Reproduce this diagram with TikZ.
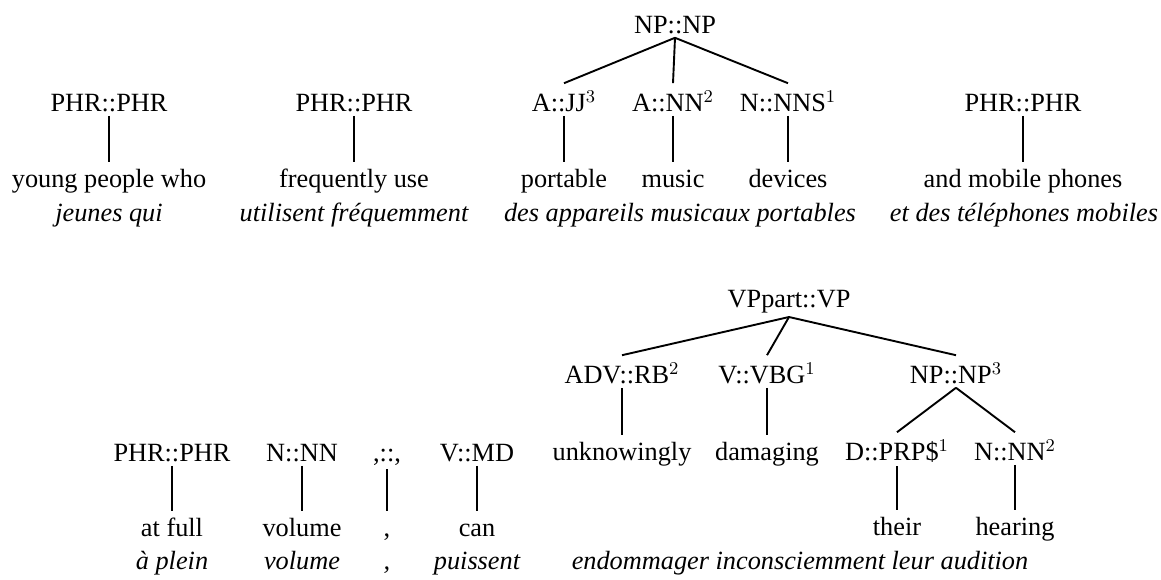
\documentclass[tikz,border=0pt]{standalone}
\usepackage[no-math]{fontspec}
\setmainfont{Liberation Serif}
\begin{document}
\begin{tikzpicture}[x=0.5pt,y=-0.5pt,
  lab/.style={anchor=base,inner xsep=0pt,inner ysep=2pt,text height=11.7pt,font=\fontsize{13.15}{16}\selectfont},
  leaf/.style={anchor=base,inner xsep=0pt,inner ysep=2pt,text height=10.5pt,font=\fontsize{13.15}{16}\selectfont},
  fr/.style={anchor=base,inner sep=0pt,font=\fontsize{13.15}{16}\selectfont\itshape},
  edge/.style={line width=0.95pt}]
\useasboundingbox (0,0) rectangle (1161,579);
% ---------- top sentence ----------
\node[lab] (np) at (675,33) {NP::NP};
\node[lab] (p1) at (109,111) {PHR::PHR};
\node[lab] (p2) at (354,111) {PHR::PHR};
\node[lab] (ajj) at (564,111) {A::JJ$^3$};
\node[lab] (ann) at (673,111) {A::NN$^2$};
\node[lab] (nns) at (788,111) {N::NNS$^1$};
\node[lab] (p3) at (1023,111) {PHR::PHR};
\node[leaf] (w1) at (109,187) {young people who};
\node[leaf] (w2) at (354,187) {frequently use};
\node[leaf] (w3) at (564,187) {portable};
\node[leaf] (w4) at (673,187) {music};
\node[leaf] (w5) at (788,187) {devices};
\node[leaf] (w6) at (1023,187) {and mobile phones};
\node[fr] (f1) at (109,221) {jeunes qui};
\node[fr] (f2) at (354,221) {utilisent fréquemment};
\node[fr] (f3) at (680,221) {des appareils musicaux portables};
\node[fr] (f4) at (1024,221) {et des téléphones mobiles};
\draw[edge] (np.south) -- (ajj.north);
\draw[edge] (np.south) -- (ann.north);
\draw[edge] (np.south) -- (nns.north);
\draw[edge] (p1.south) -- (w1.north);
\draw[edge] (p2.south) -- (w2.north);
\draw[edge] (ajj.south) -- (w3.north);
\draw[edge] (ann.south) -- (w4.north);
\draw[edge] (nns.south) -- (w5.north);
\draw[edge] (p3.south) -- (w6.north);
% ---------- bottom sentence ----------
\node[lab] (vp) at (789,307) {VPpart::VP};
\node[lab] (adv) at (622,383) {ADV::RB$^2$};
\node[lab] (vbg) at (767,383) {V::VBG$^1$};
\node[lab] (np3) at (956,383) {NP::NP$^3$};
\node[leaf] (u1) at (622,460) {unknowingly};
\node[leaf] (u2) at (767,460) {damaging};
\node[lab] (prp) at (897,460) {D::PRP\$$^1$};
\node[lab] (nn2) at (1015,460) {N::NN$^2$};
\node[leaf] (u3) at (897,535) {their};
\node[leaf] (u4) at (1015,535) {hearing};
\node[lab] (q1) at (172,461) {PHR::PHR};
\node[lab] (q2) at (302,461) {N::NN};
\node[lab] (q3) at (387,461) {,::,};
\node[lab] (q4) at (477,461) {V::MD};
\node[leaf] (v1) at (172,536) {at full};
\node[leaf] (v2) at (302,536) {volume};
\node[leaf] (v3) at (387,536) {,};
\node[leaf] (v4) at (477,536) {can};
\node[fr] (g1) at (172,569) {à plein};
\node[fr] (g2) at (302,569) {volume};
\node[fr] (g3) at (387,569) {,};
\node[fr] (g4) at (477,569) {puissent};
\node[fr] (g5) at (800,569) {endommager inconsciemment leur audition};
\draw[edge] (vp.south) -- (adv.north);
\draw[edge] (vp.south) -- (vbg.north);
\draw[edge] (vp.south) -- (np3.north);
\draw[edge] (adv.south) -- (u1.north);
\draw[edge] (vbg.south) -- (u2.north);
\draw[edge] (np3.south) -- (prp.north);
\draw[edge] (np3.south) -- (nn2.north);
\draw[edge] (prp.south) -- (u3.north);
\draw[edge] (nn2.south) -- (u4.north);
\draw[edge] (q1.south) -- (v1.north);
\draw[edge] (q2.south) -- (v2.north);
\draw[edge] (q3.south) -- (v3.north);
\draw[edge] (q4.south) -- (v4.north);
\end{tikzpicture}
\end{document}
